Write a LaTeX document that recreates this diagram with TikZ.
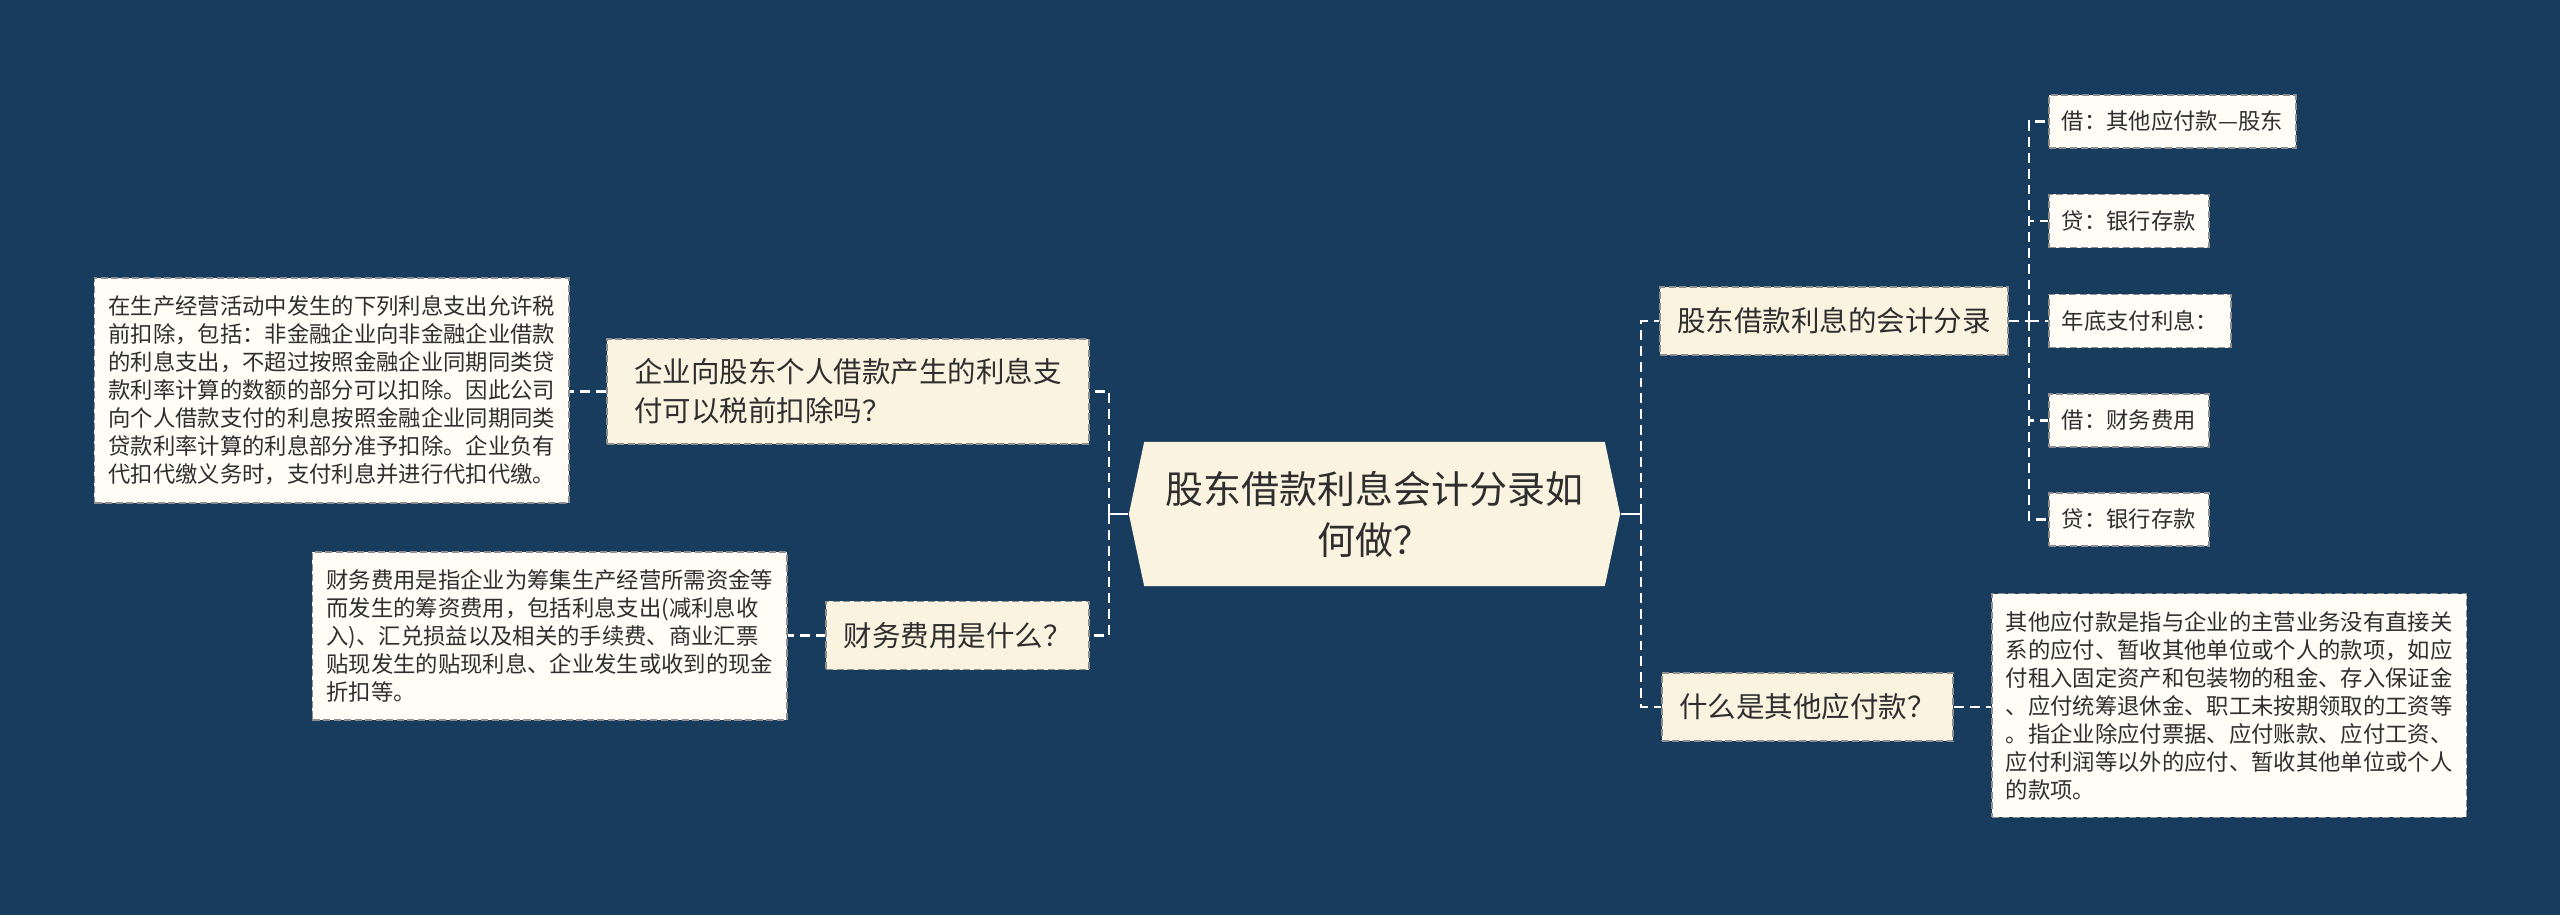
\documentclass[tikz,border=0pt]{standalone}
\usepackage{fontspec}
\setmainfont{Noto Sans CJK SC}
\usepackage{xcolor}
\usepackage{tikz}
\usetikzlibrary{shapes.symbols,calc}

\definecolor{bgnavy}{HTML}{173C5D}
\definecolor{topicfill}{HTML}{FAF3DF}
\definecolor{leaffill}{HTML}{FFFDF6}
\definecolor{inktext}{HTML}{2E2E2E}
\definecolor{edgegray}{HTML}{8E8E8E}

\begin{document}
\begin{tikzpicture}[x=0.01cm, y=-0.01cm,
  root/.style={shape=signal, signal to=west and east, signal pointer angle=156,
    fill=topicfill, text=inktext, font=\fontsize{10.8}{14.5}\selectfont,
    align=center, minimum width=4.91cm, minimum height=1.44cm, inner sep=0pt},
  topic/.style={draw=edgegray, dash pattern=on 2pt off 1pt, line width=0.5pt,
    fill=topicfill, text=inktext, font=\fontsize{8.1}{11.1}\selectfont,
    inner xsep=0.175cm, inner ysep=0.2cm, minimum height=0.68cm, align=left},
  leaf/.style={draw=edgegray, dash pattern=on 2pt off 1pt, line width=0.5pt,
    fill=leaffill, text=inktext, font=\fontsize{6.35}{7.97}\selectfont,
    inner xsep=0.14cm, inner ysep=0.175cm, align=left},
  tag/.style={leaf, inner xsep=0.13cm, inner ysep=0.1cm, minimum height=0.53cm},
  link/.style={draw=white, line width=0.7pt, dash pattern=on 2.8pt off 1.7pt},
  stem/.style={draw=white, line width=0.7pt}]
  \fill[bgnavy] (0,0) rectangle (2560,915);
  \useasboundingbox (0,0) rectangle (2560,915);

  % centre
  \node[root] (root) at (1374.5,514) {股东借款利息会计分录如\\何做？};

  % left side
  \node[topic, anchor=east, minimum width=4.82cm] (q1) at (1090,391.5)
    {企业向股东个人借款产生的利息支\\付可以税前扣除吗？};
  \node[topic, anchor=east] (q2) at (1090,635.5) {财务费用是什么？};
  \node[leaf, anchor=east] (d1) at (570,390.5)
    {在生产经营活动中发生的下列利息支出允许税\\
     前扣除，包括：非金融企业向非金融企业借款\\
     的利息支出，不超过按照金融企业同期同类贷\\
     款利率计算的数额的部分可以扣除。因此公司\\
     向个人借款支付的利息按照金融企业同期同类\\
     贷款利率计算的利息部分准予扣除。企业负有\\
     代扣代缴义务时，支付利息并进行代扣代缴。};
  \node[leaf, anchor=east] (d2) at (788,636)
    {财务费用是指企业为筹集生产经营所需资金等\\
     而发生的筹资费用，包括利息支出(减利息收\\
     入)、汇兑损益以及相关的手续费、商业汇票\\
     贴现发生的贴现利息、企业发生或收到的现金\\
     折扣等。};

  % right side
  \node[topic, anchor=west] (q3) at (1659,321) {股东借款利息的会计分录};
  \node[topic, anchor=west] (q4) at (1661,707) {什么是其他应付款？};
  \node[tag, anchor=west] (e1) at (2048,121.5) {借：其他应付款—股东};
  \node[tag, anchor=west] (e2) at (2048,221) {贷：银行存款};
  \node[tag, anchor=west] (e3) at (2048,321) {年底支付利息：};
  \node[tag, anchor=west] (e4) at (2048,420.5) {借：财务费用};
  \node[tag, anchor=west] (e5) at (2048,519.5) {贷：银行存款};
  \node[leaf, anchor=west] (d4) at (1991,705.5)
    {其他应付款是指与企业的主营业务没有直接关\\
     系的应付、暂收其他单位或个人的款项，如应\\
     付租入固定资产和包装物的租金、存入保证金\\
     、应付统筹退休金、职工未按期领取的工资等\\
     。指企业除应付票据、应付账款、应付工资、\\
     应付利润等以外的应付、暂收其他单位或个人\\
     的款项。};

  % connectors
  \coordinate (lj) at ($(root.west)+(-19,0)$);
  \coordinate (rj) at ($(root.east)+(20,0)$);
  \coordinate (q3j) at ($(q3.east)+(20,0)$);
  \draw[stem] (root.west) -- (lj);
  \draw[stem] (root.east) -- (rj);
  \draw[link] (lj) |- (q1.east);
  \draw[link] (lj) |- (q2.east);
  \draw[link] (q1.west) -- (q1.west -| d1.east);
  \draw[link] (q2.west) -- (q2.west -| d2.east);
  \draw[link] (rj) |- (q3.west);
  \draw[link] (rj) |- (q4.west);
  \draw[link] (q3.east) -- (q3j);
  \foreach \e in {e1,e2,e3,e4,e5}
    \draw[link] (q3j) |- (\e.west);
  \draw[link] (q4.east) -- (q4.east -| d4.west);
\end{tikzpicture}
\end{document}
